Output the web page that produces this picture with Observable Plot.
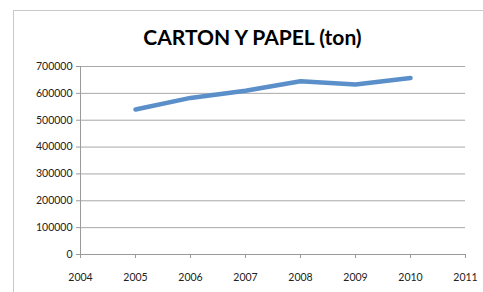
<!DOCTYPE html>
<html><head><meta charset="utf-8">
<script src="https://cdn.jsdelivr.net/npm/d3@7"></script>
<script src="https://cdn.jsdelivr.net/npm/@observablehq/plot@0.6"></script>
<style>
body{margin:0;background:#fff;width:483px;height:292px;overflow:hidden;position:relative;font-family:Lato,"Open Sans",sans-serif}
#frame{position:absolute;left:13px;top:10px;width:475px;height:285px;border:1px solid #c8c8c8;box-sizing:border-box}
#title{position:absolute;left:0;top:26px;width:483px;text-align:center;font:bold 21px/21px Lato,"Open Sans",sans-serif;color:#000;padding-left:22px;box-sizing:border-box}
#chart{position:absolute;left:0;top:57px}
</style></head>
<body>
<div id="frame"></div>
<div id="title">CARTON Y PAPEL (ton)</div>
<div id="chart"></div>
<script>
const years = [2005, 2006, 2007, 2008, 2009, 2010];
const tons = [540000, 583000, 610000, 645000, 633000, 657000];
const xTicks = [2004, 2005, 2006, 2007, 2008, 2009, 2010, 2011];
const yTicks = [0, 100000, 200000, 300000, 400000, 500000, 600000, 700000];

const data = years.map((y, i) => ({year: y, value: tons[i]}));

const plot = Plot.plot({
  width: 483,
  height: 235,
  marginLeft: 80,
  marginRight: 18,
  marginTop: 9,
  marginBottom: 38,
  style: {fontFamily: "Lato, 'Open Sans', sans-serif", fontSize: "10.5px", color: "#222", background: "transparent"},
  x: {domain: [2004, 2011], label: null},
  y: {domain: [0, 700000], label: null},
  marks: [
    Plot.gridY(yTicks.filter(d => d > 0), {stroke: "#a8a8a8", strokeOpacity: 1, strokeWidth: 1}),
    Plot.ruleX([2004], {stroke: "#9a9a9a"}),
    Plot.ruleY([0], {stroke: "#9a9a9a"}),
    Plot.axisX({ticks: xTicks, tickFormat: d => String(d), tickSize: 4, tickPadding: 15, stroke: "#9a9a9a", label: null}),
    Plot.axisY({ticks: yTicks, tickFormat: d => String(d), tickSize: 4, tickPadding: 4, stroke: "#9a9a9a", label: null}),
    Plot.line(data, {x: "year", y: "value", stroke: "#5a8fca", strokeWidth: 4.5, strokeLinejoin: "round", strokeLinecap: "round"})
  ]
});
document.getElementById("chart").appendChild(plot);
</script>
</body></html>
